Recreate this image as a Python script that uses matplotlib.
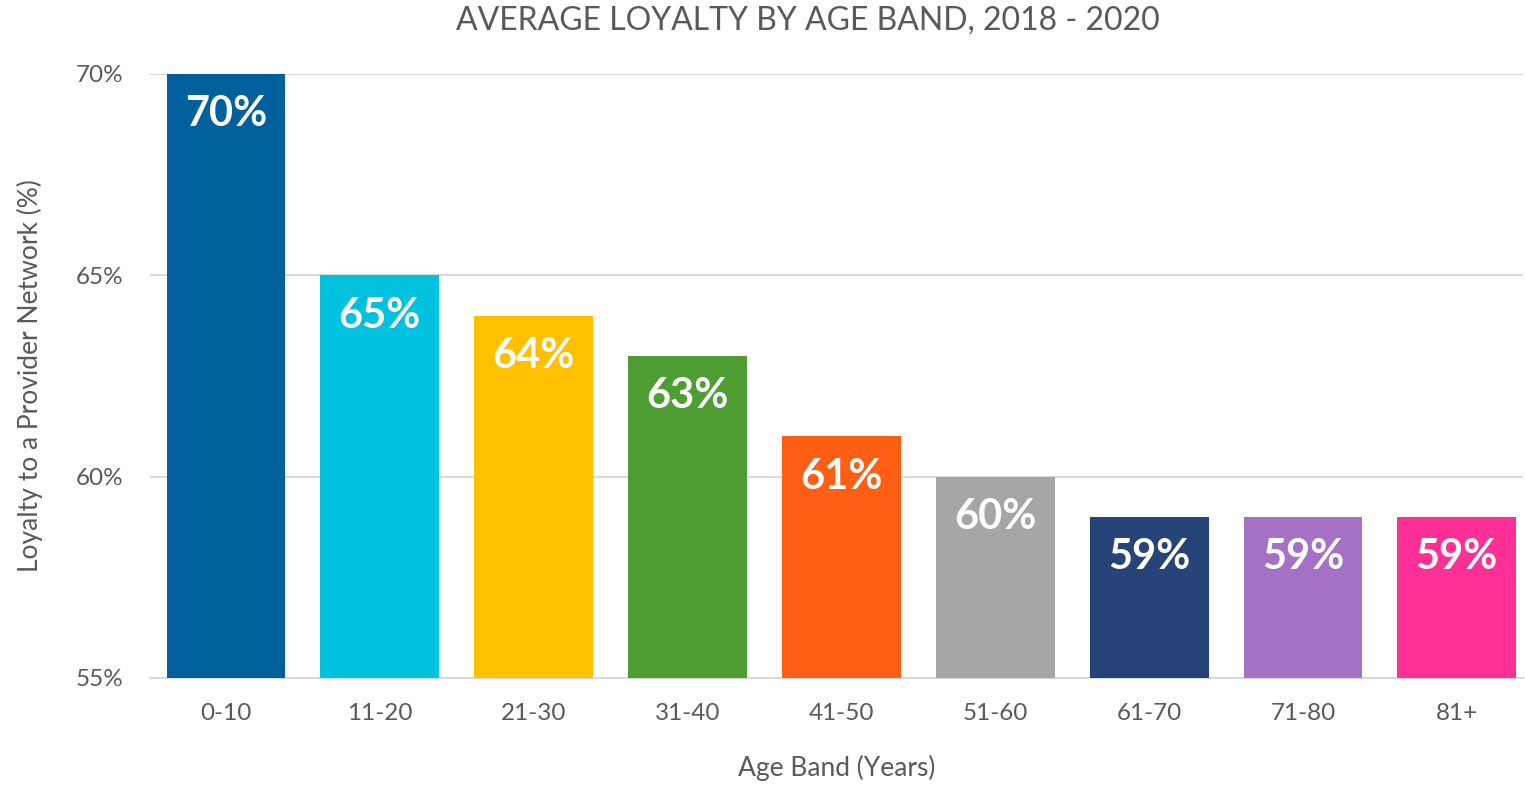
import numpy as np
import matplotlib
matplotlib.use('Agg')
import matplotlib.pyplot as plt

age_bands = ['0-10', '11-20', '21-30', '31-40', '41-50', '51-60', '61-70', '71-80', '81+']
loyalty = [70, 65, 64, 63, 61, 60, 59, 59, 59]
bar_colors = ['#00609C', '#00C1DE', '#FFC000', '#4E9D32', '#FF5F15',
              '#A6A6A6', '#264478', '#A471C4', '#FF3095']
y_ticks = [55, 60, 65, 70]

plt.rcParams['font.family'] = ['Lato', 'DejaVu Sans']
text_gray = '#595959'

fig = plt.figure(figsize=(15.25, 7.85), dpi=100)
ax = fig.add_axes([150 / 1525, 1 - 678 / 785, 1373 / 1525, 604 / 785])

x = np.arange(len(age_bands))
ax.bar(x, loyalty, width=0.773, color=bar_colors, zorder=3)

for xi, v in zip(x, loyalty):
    ax.text(xi, v - 1.0, f'{v}%', ha='center', va='center', color='white',
            fontsize=30, fontweight='bold', zorder=4)

ax.set_ylim(55, 70)
ax.set_xlim(-0.494, 8.43)
ax.set_yticks(y_ticks)
ax.set_yticklabels([f'{t}%' for t in y_ticks])
ax.set_xticks(x)
ax.set_xticklabels(age_bands)
ax.tick_params(axis='both', length=0, labelsize=17.5, labelcolor=text_gray)
ax.tick_params(axis='x', pad=18)
ax.tick_params(axis='y', pad=19)
ax.grid(axis='y', color='#d9d9d9', linewidth=1.5, zorder=0)
for s in ['top', 'right', 'left']:
    ax.spines[s].set_visible(False)
ax.spines['bottom'].set_color('#d9d9d9')
ax.spines['bottom'].set_linewidth(1.5)

ax.set_xlabel('Age Band (Years)', fontsize=19, color=text_gray, labelpad=22)
ax.set_ylabel('Loyalty to a Provider Network (%)', fontsize=19, color=text_gray, labelpad=24)

fig.text(808 / 1525, 1 - 21 / 785, 'AVERAGE LOYALTY BY AGE BAND, 2018 - 2020',
         ha='center', va='center', fontsize=23, color=text_gray)

fig.savefig('out.png', dpi=100)
